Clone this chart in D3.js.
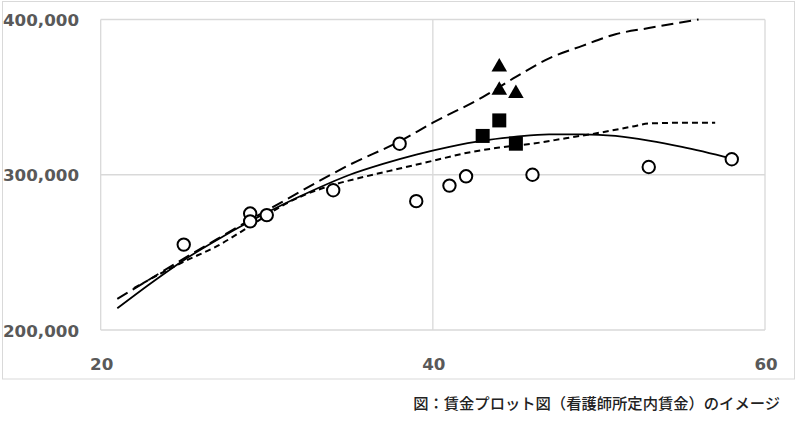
<!DOCTYPE html>
<html><head><meta charset="utf-8">
<script src="https://cdn.jsdelivr.net/npm/d3@7"></script>
<style>
html,body{margin:0;padding:0;background:#fff;}
svg{display:block;}
</style></head>
<body>
<svg id="chart" width="807" height="431"></svg>
<script>
// ---- data (age, monthly wage) ----
const xTicks = [20, 40, 60];
const yTicks = [200000, 300000, 400000];
const caption = "図：賃金プロット図（看護師所定内賃金）のイメージ";

const circleAges   = [25, 29, 29, 30, 34, 38, 39, 41, 42, 46, 53, 58];
const circleWages  = [255000, 275000, 270000, 274000, 290000, 320000, 283000, 293000, 299000, 300000, 305000, 310000];

const squareAges   = [43, 44, 45];
const squareWages  = [325000, 335000, 320000];

const triangleAges  = [44, 44, 45];
const triangleWages = [370000, 355000, 353000];

// solid fitted curve
const solidAges  = [21, 23, 25, 27, 29, 31, 33, 35, 37, 39, 41, 43, 45, 47, 49, 51, 53, 55, 58];
const solidWages = [214000, 230000, 245000, 258000, 270000, 281000, 291000, 300000, 307000, 313000, 318000, 322000, 324500, 326000, 326000, 325000, 322000, 318000, 310500];

// long-dashed line
const longAges  = [21, 23, 25, 27, 29, 31, 33, 35, 38, 40, 43, 45, 47, 49, 51, 53, 56];
const longWages = [220000, 233000, 246000, 258500, 271000, 283000, 295000, 306500, 321500, 333500, 350000, 363000, 375000, 383000, 390500, 394500, 400000];

// short-dashed line
const shortAges  = [22, 25, 27, 29, 31, 33, 34, 36, 38, 40, 42, 44, 46, 48, 50, 52, 53, 55, 57];
const shortWages = [227000, 244000, 254000, 267000, 280500, 290000, 293500, 299000, 304000, 309000, 314000, 317500, 320000, 323500, 327000, 331000, 333000, 333500, 333500];

// ---- drawing ----
const svg = d3.select("#chart");
const x = d3.scaleLinear().domain([20, 60]).range([100.7, 765]);
const y = d3.scaleLinear().domain([200000, 400000]).range([330, 19.5]);

// outer border
svg.append("rect").attr("x", 2.5).attr("y", 1.5).attr("width", 792).attr("height", 377.5)
  .attr("fill", "#fff").attr("stroke", "#d9d9d9").attr("stroke-width", 1);

// gridlines
const grid = svg.append("g");
grid.selectAll("line.h").data(yTicks).join("line")
  .attr("x1", x(20)).attr("x2", x(60))
  .attr("y1", d => y(d)).attr("y2", d => y(d))
  .attr("stroke", "#d9d9d9").attr("stroke-width", 1.3);
grid.selectAll("line.v").data(xTicks).join("line")
  .attr("y1", y(200000)).attr("y2", y(400000))
  .attr("x1", d => x(d)).attr("x2", d => x(d))
  .attr("stroke", "#d9d9d9").attr("stroke-width", 1.3);

// axis labels
const fmt = d3.format(",");
svg.append("g").selectAll("text").data(yTicks).join("text")
  .attr("x", 79).attr("y", d => y(d) + 6.5)
  .attr("text-anchor", "end")
  .attr("font-family", "DejaVu Sans").attr("font-weight", "bold")
  .attr("font-size", 16.7).attr("fill", "#595959")
  .text(d => fmt(d));
svg.append("g").selectAll("text").data(xTicks).join("text")
  .attr("x", d => x(d) + 1).attr("y", 369.5)
  .attr("text-anchor", "middle")
  .attr("font-family", "DejaVu Sans").attr("font-weight", "bold")
  .attr("font-size", 16.7).attr("fill", "#595959")
  .text(d => d);

// lines
function lineData(ages, wages){ return ages.map((a,i)=>[a, wages[i]]); }
const lineGen = d3.line().x(d => x(d[0])).y(d => y(d[1])).curve(d3.curveMonotoneX);

svg.append("path").datum(lineData(shortAges, shortWages))
  .attr("d", lineGen).attr("fill", "none").attr("stroke", "#000")
  .attr("stroke-width", 2).attr("stroke-dasharray", "6,4");
svg.append("path").datum(lineData(longAges, longWages))
  .attr("d", lineGen).attr("fill", "none").attr("stroke", "#000")
  .attr("stroke-width", 2).attr("stroke-dasharray", "12,6");
svg.append("path").datum(lineData(solidAges, solidWages))
  .attr("d", lineGen).attr("fill", "none").attr("stroke", "#000")
  .attr("stroke-width", 1.8);

// markers
svg.append("g").selectAll("circle").data(lineData(circleAges, circleWages)).join("circle")
  .attr("cx", d => x(d[0])).attr("cy", d => y(d[1])).attr("r", 6.2)
  .attr("fill", "#fff").attr("stroke", "#000").attr("stroke-width", 2);

const sq = 14;
svg.append("g").selectAll("rect").data(lineData(squareAges, squareWages)).join("rect")
  .attr("x", d => x(d[0]) - sq/2).attr("y", d => y(d[1]) - sq/2)
  .attr("width", sq).attr("height", sq).attr("fill", "#000");

const tri = d3.symbol().type(d3.symbolTriangle).size(105);
svg.append("g").selectAll("path").data(lineData(triangleAges, triangleWages)).join("path")
  .attr("transform", d => `translate(${x(d[0])},${y(d[1]) + 1})`)
  .attr("d", tri).attr("fill", "#000");

// caption
svg.append("text").attr("x", 780).attr("y", 409)
  .attr("text-anchor", "end")
  .attr("font-family", "'Noto Sans CJK JP'").attr("font-size", 15.3)
  .attr("font-weight", 500).attr("fill", "#222")
  .text(caption);
</script>
</body></html>
